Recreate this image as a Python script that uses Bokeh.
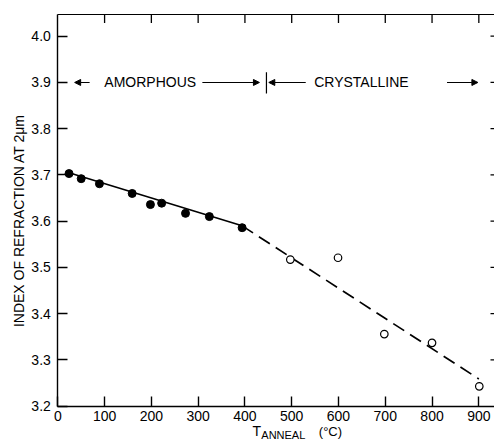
import math
from bokeh.plotting import figure
from bokeh.models import (Range1d, LinearAxis, FixedTicker, PrintfTickFormatter,
                          Label, Arrow, NormalHead)
from bokeh.embed import file_html
from bokeh.resources import INLINE

# ---- data ----
amorphous_T = [24, 50, 89, 159, 198, 222, 273, 324, 394]
amorphous_n = [3.703, 3.692, 3.681, 3.660, 3.636, 3.639, 3.617, 3.610, 3.586]
crystalline_T = [497, 599, 698, 800, 901]
crystalline_n = [3.517, 3.521, 3.356, 3.337, 3.243]

fit_amorphous_T = [24, 394]
fit_amorphous_n = [3.705, 3.590]
fit_crystalline_T = [394, 900]
fit_crystalline_n = [3.590, 3.259]

x_ticks = [0, 100, 200, 300, 400, 500, 600, 700, 800, 900]
y_ticks = [3.2, 3.3, 3.4, 3.5, 3.6, 3.7, 3.8, 3.9, 4.0]

phase_level = 3.9
phase_boundary = 446

FONT = "Liberation Sans"
X_MIN, X_MAX = 0, 933.5        # axis extent
Y_MIN, Y_MAX = 3.2, 4.048
PX_PER_X = 0.4678              # screen px per degree
PX_PER_Y = 462.5               # screen px per index unit

# whole canvas is the plotting frame; axes are pinned at the data extent
p = figure(width=494, height=443, output_backend="svg", toolbar_location=None,
           x_range=Range1d(-122.5, 933.5), y_range=Range1d(3.1194, 4.0772),
           x_axis_location=None, y_axis_location=None,
           min_border_left=0, min_border_right=0, min_border_top=0,
           min_border_bottom=0)
p.outline_line_color = None
p.grid.visible = False
p.background_fill_color = "white"
p.border_fill_color = "white"


def style(ax, tick_in):
    ax.major_tick_in = tick_in
    ax.major_tick_out = 0
    ax.minor_tick_line_color = None
    ax.major_tick_line_color = "black"
    ax.major_tick_line_width = 1.4
    ax.major_label_text_font = FONT
    ax.major_label_text_font_size = "14px"
    ax.major_label_text_color = "black"


bottom = LinearAxis(fixed_location=Y_MIN, ticker=FixedTicker(ticks=x_ticks),
                    bounds=(X_MIN, X_MAX), axis_line_color="black",
                    axis_line_width=1.5, major_label_standoff=5)
style(bottom, 10)
p.add_layout(bottom, "below")

left = LinearAxis(fixed_location=X_MIN, ticker=FixedTicker(ticks=y_ticks),
                  bounds=(Y_MIN, Y_MAX), axis_line_color="black",
                  axis_line_width=1.4, major_label_standoff=7,
                  formatter=PrintfTickFormatter(format="%.1f"))
style(left, 10)
p.add_layout(left, "left")

# top border line (no labels) and inward tick marks on top and right
top = LinearAxis(fixed_location=Y_MAX, ticker=FixedTicker(ticks=[]),
                 bounds=(X_MIN, X_MAX), axis_line_color="black",
                 axis_line_width=1.2, minor_tick_line_color=None)
p.add_layout(top, "above")

top_t = x_ticks[1:]
p.segment(x0=top_t, y0=[Y_MAX] * len(top_t), x1=top_t,
          y1=[Y_MAX - 9 / PX_PER_Y] * len(top_t),
          line_color="black", line_width=1.3)
right_t = y_ticks[1:]
p.segment(x0=[X_MAX] * len(right_t), y0=right_t,
          x1=[X_MAX - 4 / PX_PER_X] * len(right_t), y1=right_t,
          line_color="black", line_width=1.3)

# fit lines
p.line(fit_amorphous_T, fit_amorphous_n, line_color="black", line_width=1.6)
p.line(fit_crystalline_T, fit_crystalline_n, line_color="black", line_width=1.7,
       line_dash="13 7")

# data points
p.scatter(amorphous_T, amorphous_n, size=8, marker="circle",
          fill_color="black", line_color="black")
p.scatter(crystalline_T, crystalline_n, size=7.5, marker="circle",
          fill_color="white", line_color="black", line_width=1.2)


# phase annotations
def arrow(x0, x1):
    p.add_layout(Arrow(end=NormalHead(size=6, fill_color="black", line_color="black",
                                      line_width=1),
                       x_start=x0, y_start=phase_level, x_end=x1, y_end=phase_level,
                       line_color="black", line_width=1.1))


arrow(68, 36)
arrow(309, 431)
arrow(530, 451)
arrow(832, 898)
p.segment(x0=[phase_boundary], y0=[3.876], x1=[phase_boundary], y1=[3.922],
          line_color="black", line_width=1.2)

for txt, xc in (("AMORPHOUS", 197.5), ("CRYSTALLINE", 649)):
    p.add_layout(Label(x=xc, y=phase_level, text=txt, text_align="center",
                       text_baseline="middle", text_font=FONT,
                       text_font_size="14px", text_color="black"))

# axis titles
p.add_layout(Label(x=-81.9, y=3.6015, text="INDEX OF REFRACTION AT 2\u03bcm",
                   angle=math.pi / 2, text_align="center", text_baseline="middle",
                   text_font=FONT, text_font_size="14px", text_color="black"))
p.add_layout(Label(x=416, y=3.1464, text="T", text_align="left",
                   text_baseline="alphabetic", text_font=FONT,
                   text_font_size="14px", text_color="black"))
p.add_layout(Label(x=435, y=3.1388, text="ANNEAL", text_align="left",
                   text_baseline="alphabetic", text_font=FONT,
                   text_font_size="11px", text_color="black"))
p.add_layout(Label(x=558, y=3.1464, text="(\u00b0C)", text_align="left",
                   text_baseline="alphabetic", text_font=FONT,
                   text_font_size="13px", text_color="black"))

open("out.html", "w").write(file_html(p, INLINE))
